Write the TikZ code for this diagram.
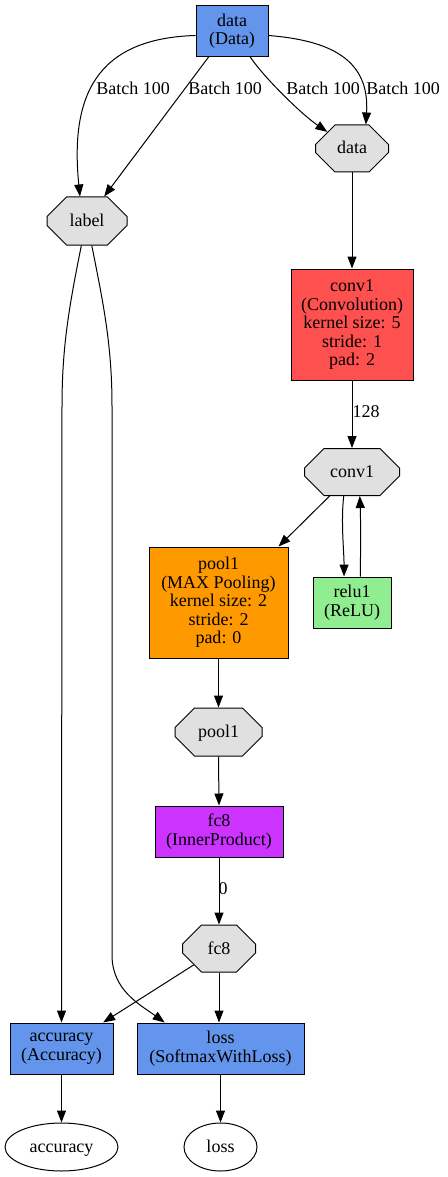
\documentclass[tikz,border=0pt]{standalone}
\usepackage{fontspec}
\setmainfont{Liberation Serif}
\usetikzlibrary{shapes.misc,shapes.geometric,arrows.meta}
\definecolor{layerblue}{HTML}{6495ED}
\definecolor{convred}{HTML}{FF5050}
\definecolor{poolorange}{HTML}{FF9900}
\definecolor{relugreen}{HTML}{90EE90}
\definecolor{ipurple}{HTML}{CC33FF}
\definecolor{blobgray}{HTML}{E0E0E0}
\begin{document}
\begin{tikzpicture}[x=1pt,y=-1pt,
  every node/.style={font=\fontsize{18}{18.5}\selectfont, align=center, inner sep=0pt},
  layer/.style={draw=black, line width=1pt, rectangle},
  oneline/.style={text height=13pt, text depth=2pt},
  blob/.style={oneline, draw=black, line width=1pt, chamfered rectangle,
    chamfered rectangle xsep=21pt, chamfered rectangle ysep=12pt, fill=blobgray},
  outblob/.style={oneline, draw=black, line width=1pt, ellipse},
  arr/.style={-{Triangle[length=12pt,width=9pt]}, line width=1pt},
  elabel/.style={oneline}]
\useasboundingbox (0,0) rectangle (447,1177);
% nodes
\node[layer, fill=layerblue, minimum width=72pt, minimum height=51pt] (dataL) at (232,31) {data\\(Data)};
\node[blob, minimum width=73pt, minimum height=47pt] (dataO) at (352,148.5) {data};
\node[blob, minimum width=80pt, minimum height=48pt] (label) at (87,221) {label};
\node[layer, fill=convred, minimum width=122pt, minimum height=111pt] (conv1) at (352,324.5) {conv1\\(Convolution)\\kernel size: 5\\stride: 1\\pad: 2};
\node[blob, minimum width=95pt, minimum height=47pt] (conv1O) at (352,472) {conv1};
\node[layer, fill=poolorange, minimum width=139pt, minimum height=111pt] (pool1) at (218.5,602.5) {pool1\\(MAX Pooling)\\kernel size: 2\\stride: 2\\pad: 0};
\node[layer, fill=relugreen, minimum width=78pt, minimum height=51pt] (relu1) at (352,602.5) {relu1\\(ReLU)};
\node[blob, minimum width=87pt, minimum height=48pt] (pool1O) at (218.5,732) {pool1};
\node[layer, fill=ipurple, minimum width=128pt, minimum height=51pt] (fc8) at (219,831.5) {fc8\\(InnerProduct)};
\node[blob, minimum width=73pt, minimum height=47pt] (fc8O) at (219,948.5) {fc8};
\node[layer, fill=layerblue, minimum width=103pt, minimum height=51pt] (acc) at (61.5,1048.5) {accuracy\\(Accuracy)};
\node[layer, fill=layerblue, minimum width=167pt, minimum height=51pt] (loss) at (220.5,1048.5) {loss\\(SoftmaxWithLoss)};
\node[outblob, minimum width=113pt, minimum height=48pt] (accO) at (61.5,1147) {accuracy};
\node[outblob, minimum width=73pt, minimum height=48pt] (lossO) at (220.5,1147) {loss};
% edge labels
\node[elabel] (lb1) at (133,89.5) {Batch 100};
\node[elabel] (lb2) at (225,89.5) {Batch 100};
\node[elabel] (lb3) at (323,89.5) {Batch 100};
\node[elabel] (lb4) at (403,89.5) {Batch 100};
\node[elabel] (lb128) at (366,412) {128};
\node[elabel] (lb0) at (223,889) {0};
\coordinate (accbend) at (62,406);
\coordinate (lossbendA) at (112,406);
\coordinate (lossbendB) at (112,955);
% edges
\draw[arr] (dataL.187) .. controls +(-100,3) and +(-10,-100) .. (label.106);
\draw[arr] (dataL.228) -- (label.55);
\draw[arr] (dataL.305) .. controls +(15,22) and +(-25,-17) .. (dataO.146);
\draw[arr] (dataL.353) .. controls +(62,5) and +(4,-65) .. (dataO.60.5);
\draw[arr] (dataO.south) -- (conv1.north);
\draw[arr] (conv1.south) -- (conv1O.north);
\draw[arr] (conv1O.227.5) -- (pool1.43.5);
\draw[arr] (conv1O.251.6) .. controls +(-3,25) and +(0,-25) .. (relu1.107.4);
\draw[arr] (relu1.72.6) .. controls +(0,-25) and +(1,25) .. (conv1O.288.4);
\draw[arr] (pool1.south) -- (pool1O.north);
\draw[arr] (pool1O.south) -- (fc8.north);
\draw[arr] (fc8.south) -- (fc8O.north);
\draw[arr] (label.257.5) .. controls +(-12,60) and +(0,-60) .. (accbend) -- (acc.north);
\draw[arr] (label.281) .. controls +(12,60) and +(0,-60) .. (lossbendA) -- (lossbendB) .. controls +(0,35) and +(-25,-18) .. (loss.155);
\draw[arr] (fc8O.213.7) -- (acc.32.4);
\draw[arr] (fc8O.south) -- (loss.north -| fc8O.south);
\draw[arr] (acc.south) -- (accO.north);
\draw[arr] (loss.south) -- (lossO.north);
\end{tikzpicture}
\end{document}
